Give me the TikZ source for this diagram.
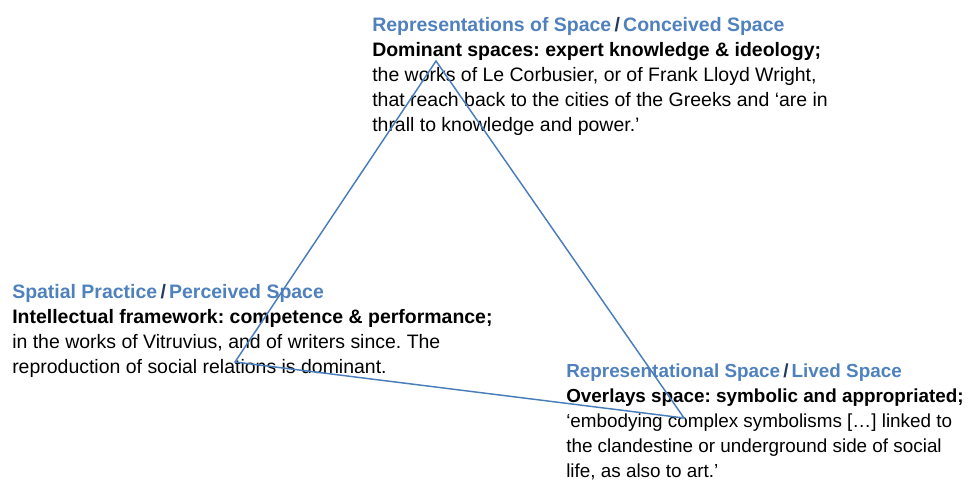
\documentclass[tikz,border=0pt]{standalone}
\usepackage{fontspec}
\setmainfont{Liberation Sans}
\usetikzlibrary{positioning}

\definecolor{headblue}{HTML}{4F81BD}
\definecolor{slashblue}{HTML}{1F3864}
\definecolor{lineblue}{HTML}{4A7EBB}

\newcommand{\headline}[2]{\textbf{\textcolor{headblue}{#1}\,\textcolor{slashblue}{/}\,\textcolor{headblue}{#2}}}

\begin{document}
\frenchspacing
\begin{tikzpicture}[
      x=0.75pt, y=-0.75pt,
      every node/.style={font=\fontsize{14.6}{18.75}\selectfont},
      block/.style={anchor=north west, align=left, inner sep=0pt},
      tri/.style={draw=lineblue, line width=1.1pt, line join=miter}
    ]
    \useasboundingbox (0,0) rectangle (975,495);

    % Conceived space (top)
    \node[block] (conceived) at (372,17.5) {
      \headline{Representations of Space}{Conceived Space}\\
      \textbf{Dominant spaces: expert knowledge \& ideology;}\\
      the works of Le Corbusier, or of Frank Lloyd Wright,\\
      that reach back to the cities of the Greeks and `are in\\
      thrall to knowledge and power.'
    };

    % Perceived space (left)
    \node[block] (perceived) at (12,284.5) {
      \headline{Spatial Practice}{Perceived Space}\\
      \textbf{Intellectual framework: competence \& performance;}\\
      in the works of Vitruvius, and of writers since. The\\
      reproduction of social relations is dominant.
    };

    % Lived space (right)
    \node[block, font=\fontsize{14.15}{18.75}\selectfont] (lived) at (566,364) {
      \headline{Representational Space}{Lived Space}\\
      \textbf{Overlays space: symbolic and appropriated;}\\
      `embodying complex symbolisms [\ldots] linked to\\
      the clandestine or underground side of social\\
      life, as also to art.'
    };

    % Triangle
    \coordinate (apex) at (436,61);
    \coordinate (lcorner) at (235,362);
    \coordinate (rcorner) at (684,418);
    \draw[tri] (apex) -- (lcorner) -- (rcorner) -- cycle;

  \end{tikzpicture}
\end{document}
